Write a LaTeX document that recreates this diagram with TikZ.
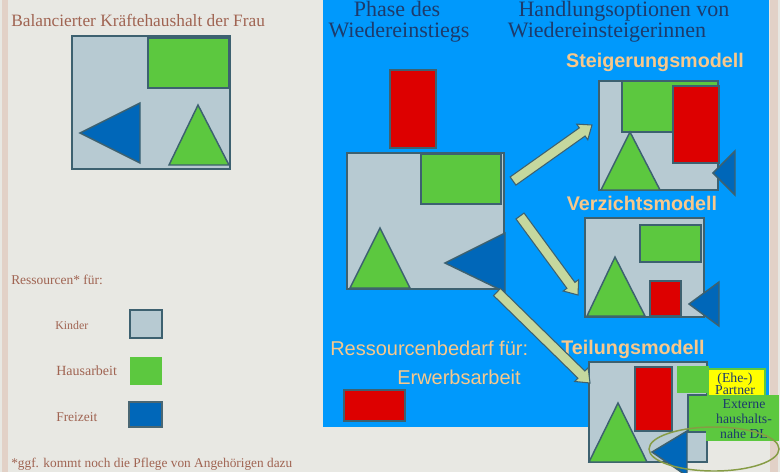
\documentclass[tikz,border=0pt]{standalone}
\usepackage{fontspec}
\setmainfont{Liberation Serif}
\newfontfamily\arialfont{Liberation Sans}
\usetikzlibrary{calc}
\definecolor{bgc}{HTML}{E8E8E3}
\definecolor{stripe}{HTML}{E2D1C7}
\definecolor{panel}{HTML}{0099FC}
\definecolor{kind}{HTML}{B7CAD2}
\definecolor{haus}{HTML}{5CC83F}
\definecolor{frei}{HTML}{0067B9}
\definecolor{erw}{HTML}{DD0000}
\definecolor{edge}{HTML}{3D6170}
\definecolor{brownt}{HTML}{A06452}
\definecolor{navy}{HTML}{1D3B6C}
\definecolor{orangel}{HTML}{F8C88B}
\definecolor{arrowf}{HTML}{C5D89E}
\definecolor{olivel}{HTML}{869C45}
\definecolor{yel}{HTML}{FFFF00}
\newcommand\blockarrow[2]{%
  \coordinate (ab) at ($(#2)!9pt!(#1)$);
  \draw[barrow] ($(#1)!3.75pt!90:(#2)$) -- ($(ab)!3.75pt!-90:(#1)$)
    -- ($(ab)!7.2pt!-90:(#1)$) -- (#2) -- ($(ab)!7.2pt!90:(#1)$)
    -- ($(ab)!3.75pt!90:(#1)$) -- ($(#1)!3.75pt!-90:(#2)$) -- cycle;}
\tikzset{
  kbox/.style={fill=kind, draw=edge, line width=1.4pt},
  hbox/.style={fill=haus, draw=edge, line width=1.4pt},
  fshape/.style={fill=frei, draw=edge, line width=1.1pt, line join=miter},
  hshape/.style={fill=haus, draw=edge, line width=1.1pt, line join=miter},
  ebox/.style={fill=erw, draw=edge, line width=1.4pt},
  barrow/.style={fill=arrowf, draw=edge, line width=0.8pt, line join=miter},
  lbl/.style={inner sep=0pt, anchor=base west, text=brownt},
  hdr/.style={inner sep=0pt, anchor=base, text=navy, font=\fontsize{16.5}{19}\selectfont},
  model/.style={inner sep=0pt, anchor=base, text=orangel, font=\arialfont\bfseries\fontsize{14.8}{17}\selectfont},
  bedarf/.style={inner sep=0pt, anchor=base west, text=orangel, font=\arialfont\fontsize{15}{18}\selectfont},
  small/.style={inner sep=0pt, anchor=base, text=navy, font=\fontsize{10.3}{11}\selectfont}
}
\begin{document}
\begin{tikzpicture}[x=0.75pt,y=-0.75pt]
\useasboundingbox (0,0) rectangle (780,472);
\clip (0,0) rectangle (780,472);
% background
\fill[bgc] (0,0) rectangle (780,472);
\fill[stripe] (2,0) rectangle (8,472);
\fill[stripe] (770,0) rectangle (778,472);
% blue panel
\fill[panel] (323,0) rectangle (769,427);

% ---- left part
\node[lbl, font=\fontsize{13}{15}\selectfont] (title) at (11,26) {Balancierter Kräftehaushalt der Frau};
\draw[kbox] (72,36) rectangle (230,169);
\draw[hbox] (148,38) rectangle (229,88);
\draw[fshape] (80,133) -- (140,103) -- (140,163) -- cycle;
\draw[hshape] (198,105) -- (169,165) -- (229,165) -- cycle;

\node[lbl, font=\fontsize{10.1}{12}\selectfont] (res) at (11,284) {Ressourcen* für:};
\node[lbl, font=\fontsize{8.9}{11}\selectfont] (kin) at (55,329) {Kinder};
\node[lbl, font=\fontsize{10.5}{12}\selectfont] (hau) at (56,375) {Hausarbeit};
\node[lbl, font=\fontsize{10.1}{12}\selectfont] (fre) at (56,421) {Freizeit};
\draw[kbox, line width=1.1pt] (130,310) rectangle (162,338);
\fill[haus] (130,357) rectangle (162,385);
\draw[fill=frei, draw=edge!80!gray, line width=1.1pt] (129,402) rectangle (162,427);
\node[lbl, font=\fontsize{10}{12}\selectfont] (foot) at (11,467) {*ggf. kommt noch die Pflege von Angehörigen dazu};

% ---- panel headers
\node[hdr] (ph1) at (397,16) {Phase des};
\node[hdr] (ph2) at (399,37) {Wiedereinstiegs};
\node[hdr] (ho1) at (624,16) {Handlungsoptionen von};
\node[hdr] (ho2) at (607,37) {Wiedereinsteigerinnen};

% ---- phase of re-entry
\draw[ebox] (390,70) rectangle (436,148);
\draw[kbox] (347,153) rectangle (504,289);
\draw[hbox] (421,154) rectangle (501,204);
\draw[hshape] (380,228) -- (350,288) -- (410,288) -- cycle;
\draw[fshape] (445,263) -- (505,233) -- (505,292) -- cycle;

\node[bedarf] (rb1) at (330,355) {Ressourcenbedarf für:};
\node[bedarf] (rb2) at (397,384) {Erwerbsarbeit};
\draw[ebox] (344,390) rectangle (405,421);

% ---- Steigerungsmodell
\node[model] (m1) at (655,67) {Steigerungsmodell};
\draw[kbox] (599,81) rectangle (718,190);
\draw[hbox] (622,81) rectangle (718,132);
\draw[ebox] (673,86) rectangle (719,163);
\draw[hshape] (630,132) -- (601,190) -- (660,190) -- cycle;
\draw[fshape] (713,173) -- (735,151) -- (735,195) -- cycle;

% ---- Verzichtsmodell
\node[model] (m2) at (642,210) {Verzichtsmodell};
\draw[kbox] (585,218) rectangle (704,317);
\draw[hbox] (640,225) rectangle (701,262);
\draw[hshape] (615,257) -- (587,316) -- (645,316) -- cycle;
\draw[ebox] (650,281) rectangle (681,316);
\draw[fshape] (689,304) -- (719,282) -- (719,326) -- cycle;

% ---- Teilungsmodell
\node[model] (m3) at (633,354) {Teilungsmodell};
\draw[kbox] (589,362) rectangle (707,462);
\draw[ebox] (635,367) rectangle (672,431);
\draw[hshape] (618,403) -- (589,462) -- (647,462) -- cycle;
\draw[fshape] (652,452) -- (687,431) -- (687,476) -- cycle;
\fill[haus] (677,366) rectangle (709,393);
\draw[fill=yel, draw=haus, line width=1.2pt] (708,369) rectangle (765,396);
\fill[haus] (689,395) rectangle (779,432);
\fill[haus] (706,432) rectangle (779,441);
\draw[edge, line width=1.4pt] (707,395) -- (688,395) -- (688,432) -- (706,432);
\node[small] (p1) at (735,382) {(Ehe-)};
\node[small] (p2) at (735,394) {Partner};
\node[small] (x1) at (744,408) {Externe};
\node[small] (x2) at (744,423) {haushalts-};
\node[small] (x3) at (744,438) {nahe DL};
\draw[olivel, line width=1.1pt] (714,449) ellipse [x radius=48.75pt, y radius=16.5pt];

% ---- arrows
\coordinate (t1) at (513,181); \coordinate (h1) at (592,125);
\coordinate (t2) at (520,216); \coordinate (h2) at (578,295);
\coordinate (t3) at (497,292); \coordinate (h3) at (590,383);
\blockarrow{t1}{h1}
\blockarrow{t2}{h2}
\blockarrow{t3}{h3}
\end{tikzpicture}
\end{document}
